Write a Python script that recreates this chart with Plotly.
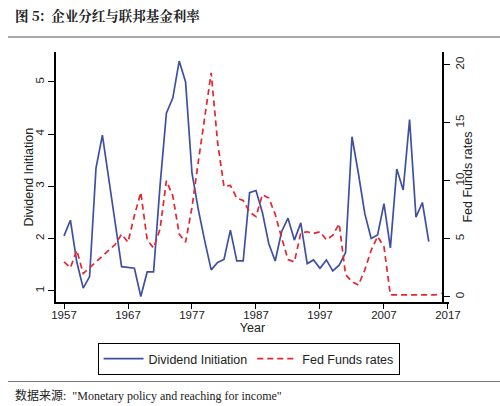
import plotly.graph_objects as go

# dividend initiation (left axis), annual
div_years = list(range(1957, 2015))
div_init = [2.05, 2.35, 1.55, 1.05, 1.27, 3.35, 3.98, 3.1, 2.3, 1.46,
            1.45, 1.43, 0.89, 1.36, 1.36, 3.0, 4.4, 4.69, 5.4, 5.0,
            3.25, 2.55, 1.95, 1.4, 1.54, 1.6, 2.16, 1.57, 1.57, 2.88,
            2.92, 2.5, 1.9, 1.57, 2.13, 2.39, 1.97, 2.3, 1.52, 1.59,
            1.43, 1.59, 1.38, 1.49, 1.73, 3.95, 3.25, 2.48, 2.0, 2.07,
            2.67, 1.82, 3.33, 2.93, 4.28, 2.41, 2.69, 1.94]

# fed funds rate (right axis), annual
fed_years = list(range(1957, 2017))
fed_rate = [3.0, 2.5, 4.0, 2.0, 2.5, 3.0, 3.5, 4.0, 4.5, 5.4,
            4.7, 7.0, 9.0, 4.9, 4.2, 5.8, 10.0, 8.7, 5.4, 4.7,
            7.7, 11.7, 15.3, 19.3, 13.3, 9.5, 9.6, 8.5, 8.3, 7.3,
            6.9, 8.8, 8.5, 7.1, 5.1, 3.2, 3.0, 5.5, 5.6, 5.45,
            5.6, 4.9, 5.3, 6.3, 1.9, 1.3, 1.0, 2.3, 4.0, 5.2,
            4.3, 0.15, 0.15, 0.15, 0.1, 0.15, 0.1, 0.1, 0.15, 0.3]

x_ticks = [1957, 1967, 1977, 1987, 1997, 2007, 2017]

fig = go.Figure()

fig.add_trace(go.Scatter(
    x=div_years, y=div_init, name='Dividend Initiation', mode='lines',
    line=dict(color='#3f50a2', width=1.7)))

fig.add_trace(go.Scatter(
    x=fed_years, y=fed_rate, name='Fed Funds rates', mode='lines',
    line=dict(color='#e3262f', width=1.7, dash='6px,4px'), yaxis='y2'))

axis_font = dict(family='Liberation Sans, Arial', size=11.5, color='#222')
title_font = dict(family='Liberation Sans, Arial', size=12.5, color='#222')

fig.update_layout(
    width=500, height=406,
    margin=dict(l=56, r=51, t=52, b=104),
    paper_bgcolor='white', plot_bgcolor='white',
    font=dict(family='Liberation Sans, Arial', size=12, color='#222'),
    xaxis=dict(range=[1955.75, 2017.16], tickvals=x_ticks, showgrid=False,
               zeroline=False, showline=True, linecolor='black', linewidth=1.5,
               ticks='outside', ticklen=5, tickwidth=1.3, tickcolor='black',
               tickfont=axis_font, ticklabelstandoff=-4,
               title=dict(text='Year', font=title_font, standoff=0)),
    yaxis=dict(range=[0.784, 5.573], tickvals=[1, 2, 3, 4, 5], tickangle=-90,
               showgrid=False, zeroline=False, showline=True, linecolor='black',
               linewidth=1.5, ticks='outside', ticklen=6, tickwidth=1.3,
               tickcolor='black', tickfont=axis_font),
    yaxis2=dict(range=[-0.457, 21.1], tickvals=[0, 5, 10, 15, 20], tickangle=-90,
                overlaying='y', side='right', anchor='free', position=0.985,
                showgrid=False, zeroline=False,
                showline=True, linecolor='black', linewidth=1.5, ticks='outside',
                ticklen=6, tickwidth=1.3, tickcolor='black', tickfont=axis_font),
    legend=dict(orientation='h', x=0.49, xanchor='center', y=-0.164, yanchor='top',
                bordercolor='black', borderwidth=1, bgcolor='white',
                font=dict(size=12.5), entrywidth=0, itemwidth=40),
    showlegend=True,
)

# y axis titles
fig.add_annotation(text='Dividend Initiation', xref='paper', yref='paper',
                   x=-0.0712, y=0.498, textangle=-90, showarrow=False,
                   xanchor='center', yanchor='middle', font=title_font)
fig.add_annotation(text='Fed Funds rates', xref='paper', yref='paper',
                   x=1.046, y=0.498, textangle=-90, showarrow=False,
                   xanchor='center', yanchor='middle', font=title_font)

# header / footer rules
fig.add_shape(type='line', xref='paper', yref='paper', x0=-0.122, x1=1.13,
              y0=1.06, y1=1.06, line=dict(color='#555', width=1.2))
fig.add_shape(type='line', xref='paper', yref='paper', x0=-0.122, x1=1.13,
              y0=-0.318, y1=-0.318, line=dict(color='#777', width=1.2))

fig.add_annotation(text='<b>图 5:  企业分红与联邦基金利率</b>', xref='paper', yref='paper',
                   x=-0.11, y=1.148, xanchor='left', yanchor='middle', showarrow=False,
                   font=dict(family='Noto Serif CJK SC, Noto Sans CJK SC', size=13.5, color='#222'))
fig.add_annotation(text='数据来源:  "Monetary policy and reaching for income"',
                   xref='paper', yref='paper', x=-0.11, y=-0.372, xanchor='left',
                   yanchor='middle', showarrow=False,
                   font=dict(family='Liberation Serif, Noto Sans CJK SC', size=12, color='#222'))

# drop the default 8px page margin so the figure fills the window
fig.write_html("out.html", config={'displayModeBar': False},
               post_script="document.body.style.margin='0';")
